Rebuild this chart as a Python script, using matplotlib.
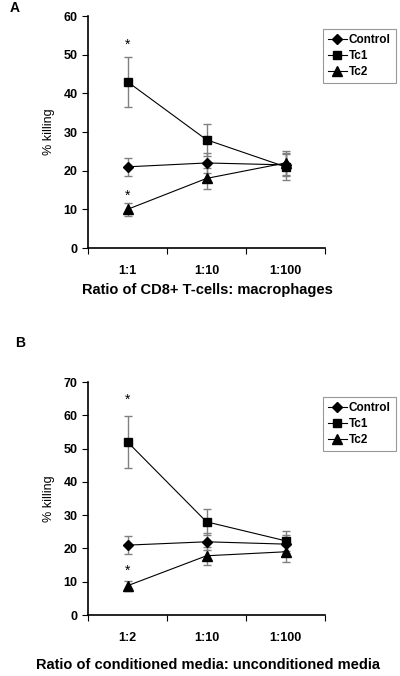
import matplotlib
matplotlib.use("Agg")
import matplotlib.pyplot as plt
import numpy as np

plt.rcParams['font.family'] = ['Liberation Sans', 'DejaVu Sans']

series = ["Control", "Tc1", "Tc2"]
markers = ["D", "s", "^"]
sizes = [5, 6, 6.5]

# panel A
cats_a = ["1:1", "1:10", "1:100"]
vals_a = {"Control": [21, 22, 21.5], "Tc1": [43, 28, 21], "Tc2": [10, 18, 22]}
errs_a = {"Control": [2.4, 2.5, 3.0], "Tc1": [6.5, 4.2, 3.4], "Tc2": [1.6, 2.7, 3.0]}
stars_a = [52.5, 13.5]

# panel B
cats_b = ["1:2", "1:10", "1:100"]
vals_b = {"Control": [21, 22, 21.3], "Tc1": [52, 28, 22.3], "Tc2": [8.8, 17.8, 19]}
errs_b = {"Control": [2.6, 2.6, 2.8], "Tc1": [7.8, 4.0, 3.0], "Tc2": [1.5, 2.7, 3.0]}
stars_b = [64.6, 13.3]

fig = plt.figure(figsize=(4, 6.76), dpi=100)
axA = fig.add_axes([0.22, 0.6331, 0.5925, 0.3432])
axB = fig.add_axes([0.22, 0.0902, 0.5925, 0.3447])


def draw(ax, cats, vals, errs, stars, ymax, leg_y):
    x = np.arange(len(cats)) + 0.5
    for name, m, ms in zip(series, markers, sizes):
        ax.errorbar(x, vals[name], yerr=errs[name], fmt='none', ecolor='#808080',
                    elinewidth=1.0, capsize=3, capthick=1.0, zorder=2)
        ax.plot(x, vals[name], color='black', lw=0.8, marker=m, ms=ms,
                mfc='black', mec='black', label=name, zorder=3)
    for s in stars:
        ax.text(x[0], s, "*", ha='center', va='center', fontsize=10)
    ax.set_xlim(0, 3)
    ax.set_ylim(0, ymax)
    ax.set_yticks(np.arange(0, ymax + 1, 10))
    ax.set_xticks([0, 1, 2, 3])
    ax.set_xticklabels([])
    ax.set_xticks(x, minor=True)
    ax.set_xticklabels(cats, minor=True, fontweight='bold', fontsize=9)
    ax.tick_params(axis='x', which='minor', length=0, pad=12)
    ax.tick_params(axis='x', which='major', length=4, direction='out')
    ax.tick_params(axis='y', length=4, direction='out', labelsize=9)
    for t in ax.get_yticklabels():
        t.set_fontweight('bold')
    ax.spines['top'].set_visible(False)
    ax.spines['right'].set_visible(False)
    ax.spines['left'].set_linewidth(1.2)
    ax.spines['bottom'].set_linewidth(1.2)
    ax.set_ylabel("% killing", fontsize=9, labelpad=6)
    leg = ax.legend(loc='upper left', bbox_to_anchor=(323 / 400, leg_y),
                    bbox_transform=fig.transFigure, frameon=True, fancybox=False,
                    edgecolor='#808080', prop={'weight': 'bold', 'size': 8.5},
                    handlelength=1.6, borderpad=0.4, labelspacing=0.35,
                    handletextpad=0.2, borderaxespad=0)
    leg.get_frame().set_linewidth(0.8)


draw(axA, cats_a, vals_a, errs_a, stars_a, 60, 1 - 29 / 676)
draw(axB, cats_b, vals_b, errs_b, stars_b, 70, 1 - 397 / 676)

fig.text(0.5175, 1 - 290 / 676, "Ratio of CD8+ T-cells: macrophages",
         fontsize=10.5, fontweight='bold', ha='center', va='center')
fig.text(0.52, 1 - 665 / 676, "Ratio of conditioned media: unconditioned media",
         fontsize=10.5, fontweight='bold', ha='center', va='center')

fig.text(10 / 400, 1 - 8 / 676, "A", fontsize=10, fontweight='bold', va='center')
fig.text(15 / 400, 1 - 343 / 676, "B", fontsize=10, fontweight='bold', va='center')

fig.savefig("out.png", dpi=100)
